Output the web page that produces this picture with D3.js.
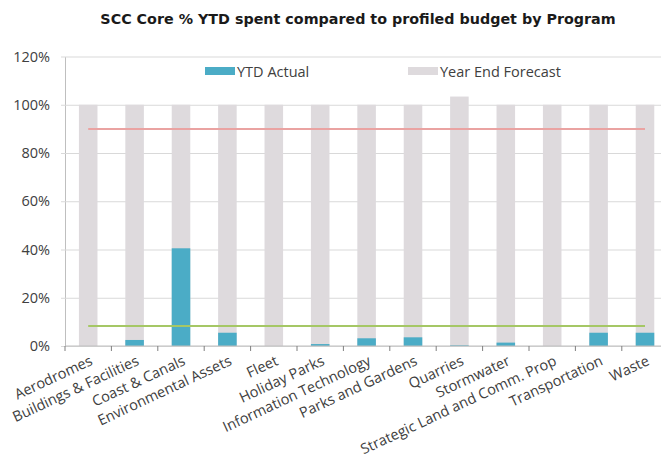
<!DOCTYPE html>
<html>
<head>
<meta charset="utf-8">
<script src="https://cdn.jsdelivr.net/npm/d3@7"></script>
<style>
    body { margin: 0; background: #fff; }
    svg { display: block; }
    .lbl { font-family: "Open Sans", sans-serif; font-size: 14.5px; fill: #404040; }
</style>
</head>
<body>
<svg id="chart" width="661" height="459"></svg>
<script>
const programs = ["Aerodromes", "Buildings & Facilities", "Coast & Canals", "Environmental Assets",
    "Fleet", "Holiday Parks", "Information Technology", "Parks and Gardens", "Quarries",
    "Stormwater", "Strategic Land and Comm. Prop", "Transportation", "Waste"];
const ytdActual = [0, 2.5, 40.5, 5.5, 0, 0.8, 3.2, 3.6, 0.3, 1.4, 0, 5.5, 5.5];
const yearEndForecast = [100, 100, 100, 100, 100, 100, 100, 100, 103.4, 100, 100, 100, 100];
const targetLine = [90, 90, 90, 90, 90, 90, 90, 90, 90, 90, 90, 90, 90];
const profiledLine = [8.3, 8.3, 8.3, 8.3, 8.3, 8.3, 8.3, 8.3, 8.3, 8.3, 8.3, 8.3, 8.3];
const yTicks = [0, 20, 40, 60, 80, 100, 120];

const svg = d3.select("#chart");

const x = d3.scaleBand().domain(programs).range([65, 668.2]).paddingInner(0.6).paddingOuter(0.3);
const xc = d => x(d) + x.bandwidth() / 2;
const y = d3.scaleLinear().domain([0, 120]).range([346, 56.5]);

//  title
svg.append("text").attr("x", 358).attr("y", 24).attr("text-anchor", "middle")
    .style("font-family", "DejaVu Sans, sans-serif").style("font-weight", "bold")
    .style("font-size", "14.3px").attr("fill", "#1a1a1a")
    .text("SCC Core % YTD spent compared to profiled budget by Program");

//  gridlines + y axis
const yAxis = d3.axisLeft(y).tickValues(yTicks).tickSize(-(661 - 65)).tickSizeOuter(0)
    .tickFormat(d => d + "%");
const gy = svg.append("g").attr("transform", "translate(65,0)").call(yAxis);
gy.select(".domain").attr("stroke", "#bfbfbf");
gy.selectAll(".tick line").attr("stroke", "#d9d9d9").attr("stroke-width", 1.2).attr("x1", -4);
gy.selectAll(".tick text").attr("x", -15).attr("class", "lbl").attr("fill", "#404040");

//  bars
svg.append("g").selectAll("rect").data(programs).join("rect")
    .attr("x", d => x(d)).attr("width", x.bandwidth())
    .attr("y", (d, i) => y(yearEndForecast[i])).attr("height", (d, i) => y(0) - y(yearEndForecast[i]))
    .attr("fill", "#dedadd");
svg.append("g").selectAll("rect").data(programs).join("rect")
    .attr("x", d => x(d)).attr("width", x.bandwidth())
    .attr("y", (d, i) => y(ytdActual[i])).attr("height", (d, i) => y(0) - y(ytdActual[i]))
    .attr("fill", "#4bacc6");

//  x axis line + ticks at band edges
svg.append("line").attr("x1", 65).attr("x2", 661).attr("y1", y(0)).attr("y2", y(0))
    .attr("stroke", "#bfbfbf");
const step = x.step();
svg.append("g").selectAll("line").data(d3.range(programs.length + 1)).join("line")
    .attr("x1", i => 65 + i * step).attr("x2", i => 65 + i * step)
    .attr("y1", y(0)).attr("y2", y(0) + 5).attr("stroke", "#7f7f7f");

//  reference lines
const line = d3.line().x((d, i) => xc(programs[i])).y(d => y(d));
svg.append("path").datum(targetLine).attr("d", line).attr("fill", "none")
    .attr("stroke", "#eaa3a2").attr("stroke-width", 2);
svg.append("path").datum(profiledLine).attr("d", line).attr("fill", "none")
    .attr("stroke", "#a5c765").attr("stroke-width", 2);

//  x labels
svg.append("g").selectAll("text").data(programs).join("text")
    .attr("class", "lbl").attr("text-anchor", "end")
    .attr("transform", d => `translate(${xc(d) + 1},${y(0) + 9}) rotate(-25)`)
    .attr("dy", "0.7em")
    .text(d => d);

//  legend
const legend = [
    { name: "YTD Actual", color: "#4bacc6", x: 205 },
    { name: "Year End Forecast", color: "#dedadd", x: 408 }
];
const lg = svg.append("g").selectAll("g").data(legend).join("g")
    .attr("transform", d => `translate(${d.x},67)`);
lg.append("rect").attr("width", 30).attr("height", 8).attr("fill", d => d.color);
lg.append("text").attr("class", "lbl").attr("x", 32).attr("y", 9.5).text(d => d.name);
</script>
</body>
</html>
